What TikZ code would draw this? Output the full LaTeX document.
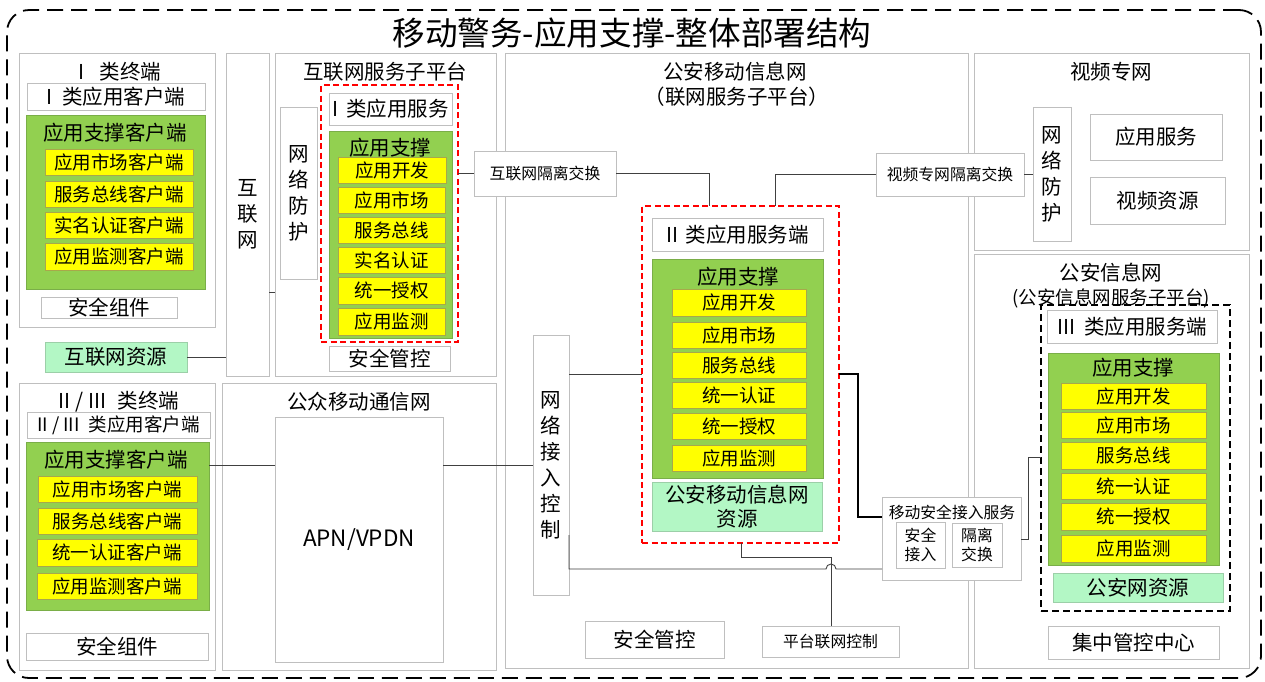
\documentclass[tikz,border=0pt]{standalone}
\usepackage{fontspec}
\newfontfamily\cjk{Noto Sans CJK SC}
\definecolor{pgray}{HTML}{BFBFBF}
\definecolor{ggreen}{HTML}{92D050}
\definecolor{ggreenb}{HTML}{7AAE48}
\definecolor{yfill}{HTML}{FFFF00}
\definecolor{yellowb}{HTML}{A8A84A}
\definecolor{lgreen}{HTML}{B3F7C5}
\definecolor{lgreenb}{HTML}{9CCFA8}
\definecolor{redd}{HTML}{FF0000}
\newcommand\szT{\fontsize{20.5}{25}\selectfont}
\newcommand\szY{\fontsize{18.5}{22}\selectfont}
\newcommand\szS{\fontsize{15.8}{18.5}\selectfont}
\newcommand\szH{\fontsize{32.6}{38}\selectfont}
\newcommand\szV{\fontsize{20.5}{26}\selectfont}
\newcommand\szA{\fontsize{22.5}{26}\selectfont}
\newcommand\mkbox[7]{%
  \pgfmathsetmacro\bw{#5-#3}\pgfmathsetmacro\bh{#6-#4}%
  \pgfmathsetmacro\cx{(#3+#5)/2}\pgfmathsetmacro\cy{(#4+#6)/2}%
  \node[#2, rectangle, minimum width=\bw pt, minimum height=\bh pt, inner sep=0pt, outer sep=0pt] (#1) at (\cx,\cy) {#7};}
\begin{document}
\begin{tikzpicture}[x=1pt,y=-1pt,
  every node/.style={font=\cjk},
  panel/.style={draw=pgray, fill=white, line width=0.9pt},
  wbox/.style={draw=pgray, fill=white, line width=0.9pt, align=center, font=\cjk\szT},
  gbox/.style={draw=ggreenb, fill=ggreen, line width=0.9pt},
  ybox/.style={draw=yellowb, fill=yfill, line width=0.9pt, font=\cjk\szY},
  lgbox/.style={draw=lgreenb, fill=lgreen, line width=0.9pt, align=center, font=\cjk\szT},
  vbox/.style={draw=pgray, fill=white, line width=0.9pt, align=center, font=\cjk\szV},
  sbox/.style={draw=pgray, fill=white, line width=0.9pt, align=center, font=\cjk\szS},
  ttl/.style={font=\cjk\szT, inner sep=0pt},
  reddash/.style={draw=redd, dashed, dash pattern=on 6pt off 3.5pt, line width=1.8pt},
  blkdash/.style={draw=black, dashed, dash pattern=on 7pt off 4pt, line width=1.8pt},
  conn/.style={draw=black!75, line width=0.9pt},
]
\useasboundingbox (0,0) rectangle (1265,681);
\fill[white] (0,0) rectangle (1265,681);

% outer frame and title
\mkbox{outer}{draw=black, dashed, dash pattern=on 16pt off 8pt, line width=1.8pt, rounded corners=22pt}{7}{10}{1261}{678}{}
\node[font=\cjk\szH, inner sep=0pt] (title) at (632,33) {移动警务-应用支撑-整体部署结构};

% ---------- I class terminal
\mkbox{t1}{panel}{19}{53}{215}{327}{}
\node[ttl] (t1t) at (120,72) {I\hspace{15pt}类终端};
\mkbox{t1c}{wbox}{27}{83}{205}{110}{I\hspace{9pt}类应用客户端}
\mkbox{t1g}{gbox}{26}{115}{205}{289}{}
\node[ttl] (t1gt) at (115,133) {应用支撑客户端};
\mkbox{t1y1}{ybox}{45}{149}{193}{175}{应用市场客户端}
\mkbox{t1y2}{ybox}{45}{181}{193}{207}{服务总线客户端}
\mkbox{t1y3}{ybox}{45}{212}{193}{238}{实名认证客户端}
\mkbox{t1y4}{ybox}{45}{243}{193}{270}{应用监测客户端}
\mkbox{t1s}{wbox}{41}{297}{177}{318}{安全组件}
\mkbox{ires}{lgbox}{45}{342}{187}{372}{互联网资源}

% ---------- Internet
\mkbox{inet}{vbox}{226}{53}{269}{376}{互\\联\\网}

% ---------- Internet service sub-platform
\mkbox{isp}{panel}{275}{53}{496}{376}{}
\node[ttl] (ispt) at (385,72) {互联网服务子平台};
\mkbox{np1}{vbox}{280}{107}{317}{279}{网\\络\\防\\护}
\mkbox{red1}{reddash}{321}{85}{458}{342}{}
\mkbox{s1}{wbox}{329}{93}{452}{125}{I\hspace{8pt}类应用服务}
\mkbox{g1}{gbox}{329}{131}{452}{338}{}
\node[ttl] (g1t) at (390,148) {应用支撑};
\mkbox{g1y1}{ybox}{338}{157}{446}{183}{应用开发}
\mkbox{g1y2}{ybox}{338}{187}{445}{213}{应用市场}
\mkbox{g1y3}{ybox}{338}{217}{445}{243}{服务总线}
\mkbox{g1y4}{ybox}{338}{247}{445}{273}{实名认证}
\mkbox{g1y5}{ybox}{338}{277}{445}{304}{统一授权}
\mkbox{g1y6}{ybox}{338}{308}{445}{335}{应用监测}
\mkbox{sc1}{wbox}{329}{346}{450}{371}{安全管控}

% ---------- II/III class terminal
\mkbox{t23}{panel}{19}{383}{215}{670}{}
\node[ttl] (t23t) at (119,402) {II\hspace{5pt}/\hspace{5pt}III\hspace{11pt}类终端};
\mkbox{t23c}{wbox, font=\cjk\szY}{27}{412}{210}{438}{II\hspace{4pt}/\hspace{4pt}III\hspace{9pt}类应用客户端}
\mkbox{t23g}{gbox}{26}{442}{209}{610}{}
\node[ttl] (t23gt) at (116,460) {应用支撑客户端};
\mkbox{t23y1}{ybox}{38}{476}{197}{502}{应用市场客户端}
\mkbox{t23y2}{ybox}{38}{508}{197}{534}{服务总线客户端}
\mkbox{t23y3}{ybox}{37}{539}{197}{566}{统一认证客户端}
\mkbox{t23y4}{ybox}{37}{573}{197}{599}{应用监测客户端}
\mkbox{t23s}{wbox}{26}{633}{208}{660}{安全组件}

% ---------- public mobile network
\mkbox{pm}{panel}{222}{383}{496}{670}{}
\node[ttl] (pmt) at (359,402) {公众移动通信网};
\mkbox{apn}{wbox}{275}{417}{443}{662}{\szA APN/VPDN}

% ---------- police mobile information network
\mkbox{pb}{panel}{505}{53}{968}{668}{}
\node[ttl] (pbt) at (735,72) {公安移动信息网};
\node[ttl] (pbt2) at (737,97) {（联网服务子平台）};
\mkbox{red2}{reddash}{642}{206}{839}{543}{}
\mkbox{s2}{wbox}{652}{218}{823}{251}{II\hspace{7pt}类应用服务端}
\mkbox{g2}{gbox}{652}{259}{823}{478}{}
\node[ttl] (g2t) at (738,277) {应用支撑};
\mkbox{g2y1}{ybox}{672}{289}{806}{316}{应用开发}
\mkbox{g2y2}{ybox}{672}{322}{806}{348}{应用市场}
\mkbox{g2y3}{ybox}{672}{352}{806}{378}{服务总线}
\mkbox{g2y4}{ybox}{672}{382}{806}{408}{统一认证}
\mkbox{g2y5}{ybox}{672}{413}{806}{439}{统一授权}
\mkbox{g2y6}{ybox}{672}{445}{806}{471}{应用监测}
\mkbox{lg2}{lgbox}{652}{482}{822}{531}{公安移动信息网\\[-1pt]资源}
\mkbox{nac}{vbox}{533}{335}{569}{595}{网\\络\\接\\入\\控\\制}
\mkbox{sc2}{wbox}{585}{621}{724}{658}{安全管控}
\mkbox{pnc}{sbox}{762}{626}{899}{657}{平台联网控制}

% ---------- video private network
\mkbox{pv}{panel}{974}{53}{1249}{250}{}
\node[ttl] (pvt) at (1111,72) {视频专网};
\mkbox{vfw}{vbox}{1033}{107}{1071}{241}{网\\络\\防\\护}
\mkbox{vas}{wbox}{1090}{114}{1222}{160}{应用服务}
\mkbox{vvr}{wbox}{1090}{177}{1225}{224}{视频资源}

% ---------- police information network
\mkbox{pg}{panel}{974}{254}{1249}{668}{}
\node[ttl] (pgt) at (1111,273) {公安信息网};
\node[font=\cjk\szY, inner sep=0pt] (pgt2) at (1111,298) {(公安信息网服务子平台)};
\mkbox{blk}{blkdash}{1041}{305}{1230}{611}{}
\mkbox{s3}{wbox}{1047}{310}{1217}{343}{III\hspace{9pt}类应用服务端}
\mkbox{g3}{gbox}{1048}{353}{1219}{565}{}
\node[ttl] (g3t) at (1133,368) {应用支撑};
\mkbox{g3y1}{ybox}{1061}{383}{1206}{409}{应用开发}
\mkbox{g3y2}{ybox}{1061}{412}{1206}{438}{应用市场}
\mkbox{g3y3}{ybox}{1061}{442}{1206}{469}{服务总线}
\mkbox{g3y4}{ybox}{1061}{473}{1206}{499}{统一认证}
\mkbox{g3y5}{ybox}{1061}{503}{1206}{530}{统一授权}
\mkbox{g3y6}{ybox}{1061}{535}{1206}{562}{应用监测}
\mkbox{lg3}{lgbox}{1053}{573}{1223}{602}{公安网资源}
\mkbox{jz}{wbox}{1048}{626}{1219}{659}{集中管控中心}

% ---------- exchange boxes (on top of panel borders)
\mkbox{ix}{sbox}{474}{151}{616}{196}{互联网隔离交换}
\mkbox{vx}{sbox}{876}{153}{1024}{196}{视频专网隔离交换}
\mkbox{msa}{sbox}{882}{497}{1021}{580}{}
\node[font=\cjk\szS, inner sep=0pt] (msat) at (952,512) {移动安全接入服务};
\mkbox{sa}{sbox}{896}{522}{945}{568}{安全\\接入}
\mkbox{gx}{sbox}{952}{523}{1002}{567}{隔离\\交换}

% ---------- connectors
\coordinate (kP) at (272,292);
\coordinate (kX1) at (709,206);
\coordinate (kX2) at (775,206);
\coordinate (k1) at (600,374);
\coordinate (k2) at (858,517);
\coordinate (k3) at (240,465);
\coordinate (k4a) at (600,535);
\coordinate (k4) at (600,569);
\coordinate (hopL) at (826,569);
\coordinate (k6) at (741,557);
\coordinate (k7) at (831,557);
\coordinate (k8) at (1000,539);
\coordinate (k9) at (1028,457);

\draw[conn] (ires.east) -- (inet.west |- ires.east);
\draw[conn] (inet.east |- kP) -- (isp.west |- kP);
\draw[conn] (red1.east |- ix.west) -- (ix.west);
\draw[conn] (ix.east) -| (kX1);
\draw[conn] (vx.west) -| (kX2);
\draw[conn] (vx.east) -- (vfw.west |- vx.east);
\draw[conn] (t23g.east |- k3) -- (apn.west |- k3);
\draw[conn] (apn.east |- k3) -- (nac.west |- k3);
\draw[conn] (nac.east |- k1) -- (red2.west |- k1);
\draw[draw=black, line width=1.8pt] (red2.east |- k1) -| (k2) -- (msa.west |- k2);
\draw[conn] (nac.east |- k4a) -- (nac.east |- k4) -- (hopL)
  arc[start angle=180, end angle=0, radius=5pt] -- (msa.west |- k4);
\draw[conn] (red2.south -| k6) -- (k6) -- (k7) -- (pnc.north -| k7);
\draw[conn] (msa.east |- k8) -| (k9) -- (blk.west |- k9);
\end{tikzpicture}
\end{document}
